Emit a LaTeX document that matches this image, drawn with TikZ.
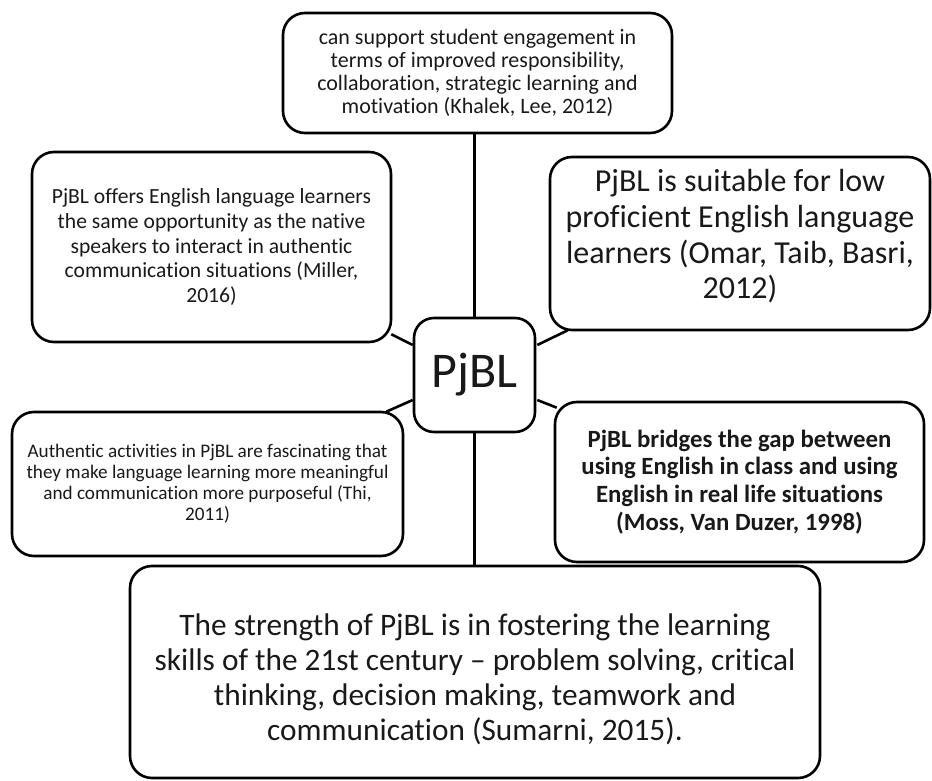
\documentclass[tikz,border=0pt]{standalone}
\usepackage{fontspec}
\setmainfont{Carlito}[Ligatures=NoCommon]
\usetikzlibrary{calc}
\tikzset{
  box/.style={draw, line width=2.6pt, rounded corners=22pt, align=center, inner sep=0pt, text=black!90},
  link/.style={line width=2.6pt},
}
\newcommand{\fs}[2]{\fontsize{#1}{#2}\selectfont}
\begin{document}
\begin{tikzpicture}[x=1pt,y=-1pt]
\useasboundingbox (0,0) rectangle (932,781);
\node[box, minimum width=389pt, minimum height=120pt, font=\fs{22}{23.2}] (T) at (477.5,73)
  {can support student engagement in\\terms of improved responsibility,\\collaboration, strategic learning and\\motivation (Khalek, Lee, 2012)};
\node[box, minimum width=359pt, minimum height=190pt, font=\fs{21.6}{24.8}] (M) at (211.5,247)
  {PjBL offers English language learners\\the same opportunity as the native\\speakers to interact in authentic\\communication situations (Miller,\\2016)};
\node[box, minimum width=380pt, minimum height=173pt, font=\fs{32}{35.8}] (O) at (740,243.5)
  {PjBL is suitable for low\\proficient English language\\learners (Omar, Taib, Basri,\\2012)\rule[-19pt]{0pt}{0pt}};
\node[box, rounded corners=20pt, minimum width=121pt, minimum height=114pt, font=\fs{50}{60}] (C) at (474.5,375) {PjBL};
\node[box, minimum width=391pt, minimum height=144pt, font=\fs{19.2}{21}] (H) at (207.5,484)
  {Authentic activities in PjBL are fascinating that\\they make language learning more meaningful\\and communication more purposeful (Thi,\\2011)};
\node[box, minimum width=369pt, minimum height=160pt, font=\bfseries\fs{24.8}{27.8}] (B) at (739.5,482)
  {PjBL bridges the gap between\\using English in class and using\\English in real life situations\\(Moss, Van Duzer, 1998)};
\node[box, minimum width=690pt, minimum height=212pt, font=\fs{31.3}{35}] (S) at (475,672)
  {\rule{0pt}{36pt}The strength of PjBL is in fostering the learning\\skills of the 21st century -- problem solving, critical\\thinking, decision making, teamwork and\\communication (Sumarni, 2015).};
\draw[link] (T.south -| C.north) -- (C.north);
\draw[link] (C.south) -- (C.south |- S.north);
\draw[link] ($(C.west)+(0,-30)$) -- ($(M.south east)+(-1,-9)$);
\draw[link] ($(C.east)+(1,-30)$) -- ($(O.south west)+(19,-1)$);
\draw[link] ($(C.west)+(0,25)$) -- ($(H.north east)+(-18,1)$);
\draw[link] ($(C.east)+(1,25)$) -- ($(B.north west)+(3,7)$);
\end{tikzpicture}
\end{document}
